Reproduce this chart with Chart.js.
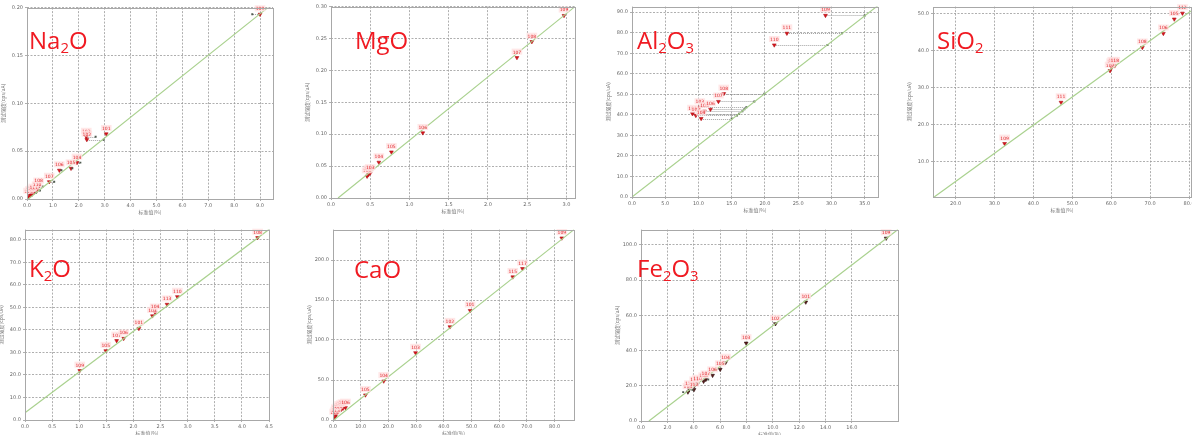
<!DOCTYPE html>
<html>
<head>
<meta charset="utf-8">
<script src="https://cdn.jsdelivr.net/npm/chart.js@4/dist/chart.umd.min.js"></script>
<style>
  html, body { margin: 0; padding: 0; background: #fff; }
  body { width: 1192px; height: 435px; position: relative; overflow: hidden; }
  canvas { position: absolute; }
  .ttl { position: absolute; font-family: "Open Sans", "Noto Sans", sans-serif; font-size: 24px; line-height: 24px; color: #f01a22; white-space: nowrap; }
  .ttl sub { font-size: 0.62em; vertical-align: -0.3em; line-height: 0; }
</style>
</head>
<body>
<script>
// sample ids shown above each measured point
const NA2O_IDS = ['114','113','112','111','110','108','107','106','105','104','103','102','101','109'];
const NA2O_X = [0.06, 0.13, 0.19, 0.26, 0.39, 0.45, 0.86, 1.25, 1.70, 1.93, 2.29, 2.31, 3.06, 9.00];
const NA2O_Y = [0.0024, 0.0040, 0.0048, 0.0066, 0.0090, 0.0130, 0.0180, 0.0300, 0.0320, 0.0380, 0.0650, 0.0620, 0.0680, 0.1930];
const NA2O_REF = [null, null, null, 0.35, 0.5, 0.6, 1.05, 1.33, 1.75, 2.06, 2.65, 2.96, null, 8.70];
const NA2O_LINE_X = [0.05, 9.3];
const NA2O_LINE_Y = [0.0, 0.20];
const NA2O_XTICKS = ['0.0','1.0','2.0','3.0','4.0','5.0','6.0','7.0','8.0','9.0'];
const NA2O_YTICKS = ['0.00','0.05','0.10','0.15','0.20'];

const MGO_IDS = ['101','102','103','104','105','106','107','108','109'];
const MGO_X = [0.46, 0.48, 0.50, 0.61, 0.77, 1.17, 2.37, 2.56, 2.97];
const MGO_Y = [0.034, 0.037, 0.039, 0.056, 0.072, 0.102, 0.220, 0.245, 0.286];
const MGO_LINE_X = [0.09, 3.11];
const MGO_LINE_Y = [0.0, 0.30];
const MGO_XTICKS = ['0.0','0.5','1.0','1.5','2.0','2.5','3.0'];
const MGO_YTICKS = ['0.00','0.05','0.10','0.15','0.20','0.25','0.30'];

const AL2O3_IDS = ['101','102','103','104','105','106','107','108','110','111','109'];
const AL2O3_X = [9.1, 9.6, 10.2, 10.4, 10.9, 11.8, 13.0, 13.8, 21.4, 23.3, 29.1];
const AL2O3_Y = [40.5, 39.7, 43.7, 38.2, 41.8, 42.7, 46.5, 50.3, 74.0, 79.7, 88.4];
const AL2O3_REF = [16.1, 15.8, 17.2, 15.0, 16.6, 16.9, 18.4, 19.9, 29.4, 31.6, 35.0];
const AL2O3_LINE_X = [0.0, 37.0];
const AL2O3_LINE_Y = [0.0, 93.2];
const AL2O3_XTICKS = ['0.0','5.0','10.0','15.0','20.0','25.0','30.0','35.0'];
const AL2O3_YTICKS = ['0.0','10.0','20.0','30.0','40.0','50.0','60.0','70.0','80.0','90.0'];

const SIO2_IDS = ['109','111','107','115','117','118','108','106','105','112'];
const SIO2_X = [32.6, 47.1, 59.7, 60.1, 60.4, 60.9, 68.0, 73.4, 76.2, 78.3];
const SIO2_Y = [14.8, 26.0, 34.6, 35.5, 35.9, 35.9, 40.9, 44.7, 48.6, 50.2];
const SIO2_LINE_X = [14.5, 80.5];
const SIO2_LINE_Y = [0.3, 50.8];
const SIO2_XTICKS = ['20.0','30.0','40.0','50.0','60.0','70.0','80.0'];
const SIO2_YTICKS = ['10.0','20.0','30.0','40.0','50.0'];

const K2O_IDS = ['109','105','107','106','101','103','104','113','110','108'];
const K2O_X = [1.01, 1.49, 1.69, 1.82, 2.10, 2.35, 2.40, 2.62, 2.81, 4.29];
const K2O_Y = [21.9, 30.7, 35.2, 36.2, 40.6, 46.2, 47.7, 51.3, 54.7, 80.9];
const K2O_LINE_X = [0.0, 4.5];
const K2O_LINE_Y = [3.2, 84.6];
const K2O_XTICKS = ['0.0','0.5','1.0','1.5','2.0','2.5','3.0','3.5','4.0','4.5'];
const K2O_YTICKS = ['0.0','10.0','20.0','30.0','40.0','50.0','60.0','70.0','80.0'];

const CAO_IDS = ['114','113','112','111','110','108','107','106','105','104','103','102','101','115','117','109'];
const CAO_X = [0.6, 1.0, 1.2, 1.8, 2.4, 3.0, 3.6, 4.5, 11.7, 18.3, 29.8, 42.2, 49.5, 64.9, 68.4, 82.6];
const CAO_Y = [2.9, 5.4, 8.3, 10.4, 12.5, 13.3, 14.6, 15.4, 31.2, 48.6, 84.0, 116.4, 136.8, 178.8, 189.2, 227.4];
const CAO_LINE_X = [0.3, 87.0];
const CAO_LINE_Y = [0.0, 238.0];
const CAO_XTICKS = ['0.0','10.0','20.0','30.0','40.0','50.0','60.0','70.0','80.0'];
const CAO_YTICKS = ['0.0','50.0','100.0','150.0','200.0'];

const FE2O3_IDS = ['114','113','112','111','110','108','107','106','105','104','103','102','101','109'];
const FE2O3_X = [3.56, 3.66, 4.02, 4.07, 4.29, 4.75, 4.92, 5.43, 6.01, 6.41, 7.98, 10.2, 12.5, 18.6];
const FE2O3_Y = [16.4, 18.0, 17.8, 20.2, 21.2, 22.5, 23.6, 25.9, 29.3, 33.1, 44.2, 55.2, 67.5, 103.8];
const FE2O3_REF = [3.2, null, 3.9, null, null, null, 5.1, null, 5.6, null, null, null, null, null];
const FE2O3_LINE_X = [0.6, 19.5];
const FE2O3_LINE_Y = [0.0, 108.7];
const FE2O3_XTICKS = ['0.0','2.0','4.0','6.0','8.0','10.0','12.0','14.0','16.0'];
const FE2O3_YTICKS = ['0.0','20.0','40.0','60.0','80.0','100.0'];

const AXIS_W = 27, AXIS_H = 16, PAD_T = 4, PAD_R = 9;
const TICK_FONT = { family: 'DejaVu Sans', size: 5 };
const CJK_FONT = { family: 'Noto Sans CJK SC', size: 5 };

const panels = [
  { title: 'Na<sub>2</sub>O', tx: 29, tb: 49, box: [27, 7, 273, 199], xr: [0, 9.5], yr: [0, 0.2],
    xs: NA2O_X, ys: NA2O_Y, ids: NA2O_IDS, refs: NA2O_REF, lx: NA2O_LINE_X, ly: NA2O_LINE_Y, xt: NA2O_XTICKS, yt: NA2O_YTICKS },
  { title: 'MgO', tx: 355, tb: 49, box: [331, 6, 575, 198], xr: [0, 3.11], yr: [0, 0.3],
    xs: MGO_X, ys: MGO_Y, ids: MGO_IDS, refs: null, lx: MGO_LINE_X, ly: MGO_LINE_Y, xt: MGO_XTICKS, yt: MGO_YTICKS },
  { title: 'Al<sub>2</sub>O<sub>3</sub>', tx: 637, tb: 49, box: [632, 6, 878, 197], xr: [0, 37], yr: [0, 92.7],
    xs: AL2O3_X, ys: AL2O3_Y, ids: AL2O3_IDS, refs: AL2O3_REF, lx: AL2O3_LINE_X, ly: AL2O3_LINE_Y, xt: AL2O3_XTICKS, yt: AL2O3_YTICKS },
  { title: 'SiO<sub>2</sub>', tx: 937, tb: 49, box: [933, 6, 1191, 197], xr: [14.2, 80.5], yr: [0.3, 52],
    xs: SIO2_X, ys: SIO2_Y, ids: SIO2_IDS, refs: null, lx: SIO2_LINE_X, ly: SIO2_LINE_Y, xt: SIO2_XTICKS, yt: SIO2_YTICKS },
  { title: 'K<sub>2</sub>O', tx: 29, tb: 277, box: [25, 229, 269, 420], xr: [0, 4.5], yr: [0, 84.5],
    xs: K2O_X, ys: K2O_Y, ids: K2O_IDS, refs: null, lx: K2O_LINE_X, ly: K2O_LINE_Y, xt: K2O_XTICKS, yt: K2O_YTICKS },
  { title: 'CaO', tx: 354, tb: 278, box: [333, 229, 574, 420], xr: [0, 87], yr: [0, 238],
    xs: CAO_X, ys: CAO_Y, ids: CAO_IDS, refs: null, lx: CAO_LINE_X, ly: CAO_LINE_Y, xt: CAO_XTICKS, yt: CAO_YTICKS },
  { title: 'Fe<sub>2</sub>O<sub>3</sub>', tx: 637, tb: 277, box: [641, 229, 898, 421], xr: [0, 19.5], yr: [0, 108.7],
    xs: FE2O3_X, ys: FE2O3_Y, ids: FE2O3_IDS, refs: FE2O3_REF, lx: FE2O3_LINE_X, ly: FE2O3_LINE_Y, xt: FE2O3_XTICKS, yt: FE2O3_YTICKS, dark: true }
];

// dotted connectors, sample labels and plot frame
const decor = {
  id: 'decor',
  beforeDatasetsDraw(chart, args, p) {
    if (!p.refs) return;
    const ctx = chart.ctx, xs = chart.scales.x, ys = chart.scales.y;
    ctx.save();
    ctx.strokeStyle = '#8a8a8a';
    ctx.lineWidth = 0.8;
    ctx.setLineDash([1, 1]);
    p.refs.forEach((r, i) => {
      if (r == null) return;
      const y = Math.round(ys.getPixelForValue(p.ys[i])) + 0.5;
      ctx.beginPath();
      ctx.moveTo(xs.getPixelForValue(p.xs[i]), y);
      ctx.lineTo(xs.getPixelForValue(r), y);
      ctx.stroke();
    });
    ctx.restore();
  },
  afterDatasetsDraw(chart, args, p) {
    const ctx = chart.ctx, xs = chart.scales.x, ys = chart.scales.y, a = chart.chartArea;
    ctx.save();
    ctx.font = '4.5px DejaVu Sans';
    ctx.textAlign = 'center';
    ctx.textBaseline = 'bottom';
    p.ids.forEach((id, i) => {
      const px = xs.getPixelForValue(p.xs[i]), py = ys.getPixelForValue(p.ys[i]);
      const w = ctx.measureText(id).width + 2;
      ctx.fillStyle = 'rgba(255,225,225,0.8)';
      ctx.fillRect(px - w / 2, py - 9, w, 6);
      ctx.fillStyle = '#e0262c';
      ctx.fillText(id, px, py - 3);
    });
    ctx.strokeStyle = '#a8a8a8';
    ctx.lineWidth = 1;
    ctx.strokeRect(Math.round(a.left) + 0.5, Math.round(a.top) + 0.5, Math.round(a.right - a.left), Math.round(a.bottom - a.top));
    ctx.restore();
  }
};

function axis(range, ticks, title, isX) {
  return {
    type: 'linear',
    min: range[0],
    max: range[1],
    afterBuildTicks: s => { s.ticks = ticks.map(t => ({ value: parseFloat(t) })); },
    afterFit: s => {
      if (isX) s.height = AXIS_H; else s.width = AXIS_W;
      s.paddingLeft = 0; s.paddingRight = 0; s.paddingTop = 0; s.paddingBottom = 0;
    },
    ticks: {
      font: TICK_FONT, color: '#666', padding: 2, autoSkip: false, maxRotation: 0,
      callback: (v, i) => ticks[i]
    },
    grid: { color: '#9a9a9a', lineWidth: 0.8, tickLength: 2, drawTicks: true },
    border: { display: false, dash: [2, 1.5] },
    title: { display: true, text: title, font: CJK_FONT, color: '#777', padding: 0 }
  };
}

panels.forEach(p => {
  const [L, T, R, B] = p.box;
  const cv = document.createElement('canvas');
  cv.width = R - L + AXIS_W + PAD_R;
  cv.height = B - T + PAD_T + AXIS_H;
  cv.style.left = (L - AXIS_W) + 'px';
  cv.style.top = (T - PAD_T) + 'px';
  document.body.appendChild(cv);

  const ttl = document.createElement('div');
  ttl.className = 'ttl';
  ttl.innerHTML = p.title;
  ttl.style.left = p.tx + 'px';
  ttl.style.top = (p.tb - 21) + 'px';
  document.body.appendChild(ttl);

  const refPts = [];
  if (p.refs) p.refs.forEach((r, i) => { if (r != null) refPts.push({ x: r, y: p.ys[i] }); });

  new Chart(cv, {
    type: 'scatter',
    data: {
      datasets: [
        { type: 'line', data: p.lx.map((x, i) => ({ x, y: p.ly[i] })), borderColor: '#a9d18e', borderWidth: 1.2, pointRadius: 0, fill: false },
        { data: refPts, pointStyle: 'rect', pointRadius: 1.4, backgroundColor: '#4f5a4f', borderWidth: 0 },
        { data: p.xs.map((x, i) => ({ x, y: p.ys[i] })), pointStyle: 'triangle', rotation: 180, pointRadius: 2.2,
          backgroundColor: p.dark ? '#5a1a1a' : '#d8141c', borderColor: p.dark ? '#2a0a0a' : '#b01016', borderWidth: 0.6 }
      ]
    },
    options: {
      responsive: false,
      animation: false,
      devicePixelRatio: 1,
      events: [],
      layout: { padding: { top: PAD_T, right: PAD_R, left: 0, bottom: 0 } },
      plugins: { legend: { display: false }, tooltip: { enabled: false }, decor: p },
      scales: {
        x: axis(p.xr, p.xt, '标准值(%)', true),
        y: axis(p.yr, p.yt, '测试强度(cps/uA)', false)
      }
    },
    plugins: [decor]
  });
});
</script>
</body>
</html>
